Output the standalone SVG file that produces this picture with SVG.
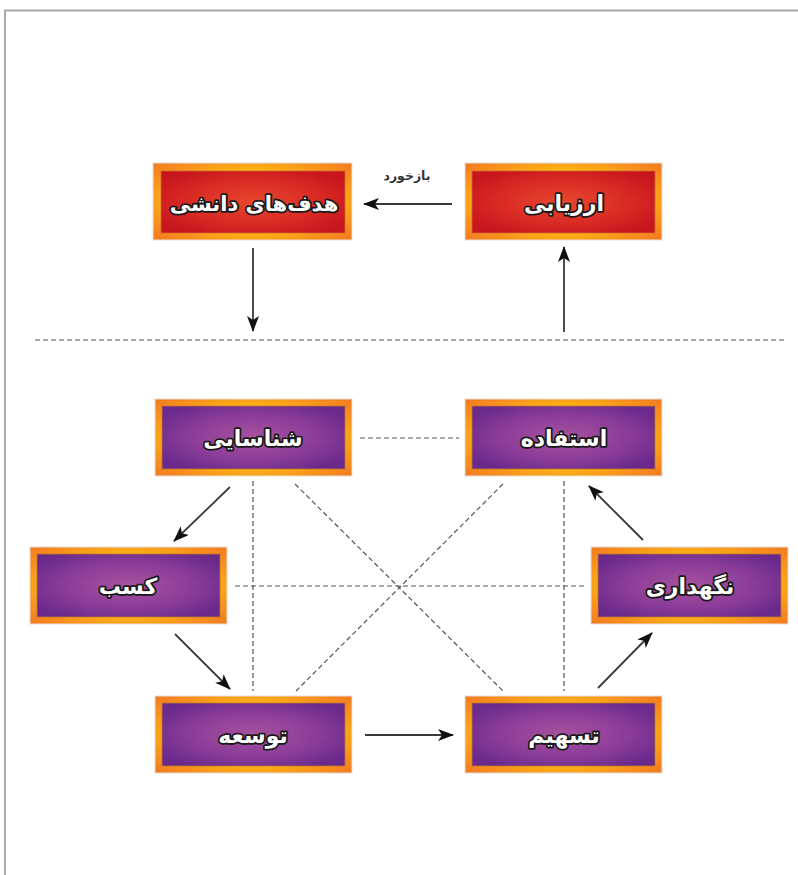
<svg xmlns="http://www.w3.org/2000/svg" width="798" height="875" viewBox="0 0 798 875">
  <defs>
    <radialGradient id="frameGrad" cx="0.5" cy="0.5" r="0.72">
      <stop offset="0.55" stop-color="#fdb813"/>
      <stop offset="0.75" stop-color="#f8941d"/>
      <stop offset="1" stop-color="#f27522"/>
    </radialGradient>
    <radialGradient id="purpleGrad" cx="0.5" cy="0.5" r="0.6">
      <stop offset="0" stop-color="#a8529f"/>
      <stop offset="0.6" stop-color="#8a3c98"/>
      <stop offset="1" stop-color="#6a2a8c"/>
    </radialGradient>
    <radialGradient id="redGrad" cx="0.5" cy="0.5" r="0.6">
      <stop offset="0" stop-color="#e6472e"/>
      <stop offset="0.6" stop-color="#d92a24"/>
      <stop offset="1" stop-color="#c8161e"/>
    </radialGradient>
    <marker id="arrow" viewBox="0 0 16 12" refX="15" refY="6" markerWidth="16" markerHeight="12" markerUnits="userSpaceOnUse" orient="auto">
      <path d="M0,0 L16,6 L0,12 L4,6 z" fill="#111"/>
    </marker>
  </defs>
  <style>
    .frame { fill: url(#frameGrad); stroke: #e6e0d8; stroke-width: 1; }
    .inner-p { fill: url(#purpleGrad); stroke: #c0742a; stroke-width: 0.8; }
    .inner-r { fill: url(#redGrad); stroke: #d0662a; stroke-width: 0.8; }
    .label { font-family: "DejaVu Sans", "Noto Sans", sans-serif; font-weight: bold; font-size: 22px; fill: #ffffff; stroke: #1a1a1a; stroke-width: 3.6; stroke-linejoin: round; paint-order: stroke; text-anchor: middle; }
    .small { font-family: "DejaVu Sans", "Noto Sans", sans-serif; font-weight: bold; font-size: 12.5px; fill: #333; text-anchor: middle; }
    .arrow { stroke: #3a3a3a; stroke-width: 1.8; fill: none; marker-end: url(#arrow); }
    .dash { stroke: #555; stroke-width: 1.2; stroke-dasharray: 5 3; fill: none; }
    .border { stroke: #aaaaaa; stroke-width: 2; fill: none; }
  </style>

  <rect width="798" height="875" fill="#ffffff"/>
  <!-- page border -->
  <path class="border" d="M5,875 V10.5 H798"/>

  <!-- connectors -->
  <g id="connectors">
    <line class="dash" x1="35" y1="340" x2="784" y2="340"/>
    <line class="dash" x1="360" y1="438" x2="459" y2="438"/>
    <line class="dash" x1="235" y1="586" x2="586" y2="586"/>
    <line class="dash" x1="253" y1="481" x2="253" y2="691"/>
    <line class="dash" x1="564" y1="481" x2="564" y2="691"/>
    <line class="dash" x1="295" y1="484" x2="503" y2="691"/>
    <line class="dash" x1="503" y1="484" x2="296" y2="691"/>

    <line class="arrow" x1="452" y1="204" x2="364" y2="204"/>
    <line class="arrow" x1="253" y1="248" x2="253" y2="331"/>
    <line class="arrow" x1="564" y1="332" x2="564" y2="247"/>
    <line class="arrow" x1="230" y1="487" x2="174" y2="541"/>
    <line class="arrow" x1="175" y1="634" x2="230" y2="689"/>
    <line class="arrow" x1="365" y1="735" x2="453" y2="735"/>
    <line class="arrow" x1="598" y1="688" x2="652" y2="633"/>
    <line class="arrow" x1="643" y1="540" x2="589" y2="486"/>
    <text class="small" x="407" y="180">بازخورد</text>
  </g>

  <!-- nodes -->
  <g id="goals">
    <rect class="frame" x="153" y="163" width="199" height="77"/>
    <rect class="inner-r" x="161" y="171" width="184" height="62"/>
    <text class="label" x="254" y="211" style="font-size:21px">هدف‌های دانشی</text>
  </g>
  <g id="evaluation">
    <rect class="frame" x="465" y="163" width="197" height="77"/>
    <rect class="inner-r" x="472" y="171" width="183" height="62"/>
    <text class="label" x="564" y="211">ارزیابی</text>
  </g>
  <g id="identification">
    <rect class="frame" x="155" y="399" width="197" height="77"/>
    <rect class="inner-p" x="162" y="406" width="183" height="63"/>
    <text class="label" x="253" y="446">شناسایی</text>
  </g>
  <g id="usage">
    <rect class="frame" x="465" y="399" width="197" height="77"/>
    <rect class="inner-p" x="472" y="406" width="183" height="63"/>
    <text class="label" x="564" y="446">استفاده</text>
  </g>
  <g id="acquisition">
    <rect class="frame" x="30" y="547" width="197" height="77"/>
    <rect class="inner-p" x="37" y="554" width="183" height="63"/>
    <text class="label" x="128" y="594">کسب</text>
  </g>
  <g id="retention">
    <rect class="frame" x="591" y="547" width="197" height="77"/>
    <rect class="inner-p" x="598" y="554" width="183" height="63"/>
    <text class="label" x="690" y="594">نگهداری</text>
  </g>
  <g id="development">
    <rect class="frame" x="155" y="696" width="197" height="77"/>
    <rect class="inner-p" x="162" y="703" width="183" height="63"/>
    <text class="label" x="253" y="743">توسعه</text>
  </g>
  <g id="sharing">
    <rect class="frame" x="465" y="696" width="197" height="77"/>
    <rect class="inner-p" x="472" y="703" width="183" height="63"/>
    <text class="label" x="564" y="743">تسهیم</text>
  </g>
</svg>
